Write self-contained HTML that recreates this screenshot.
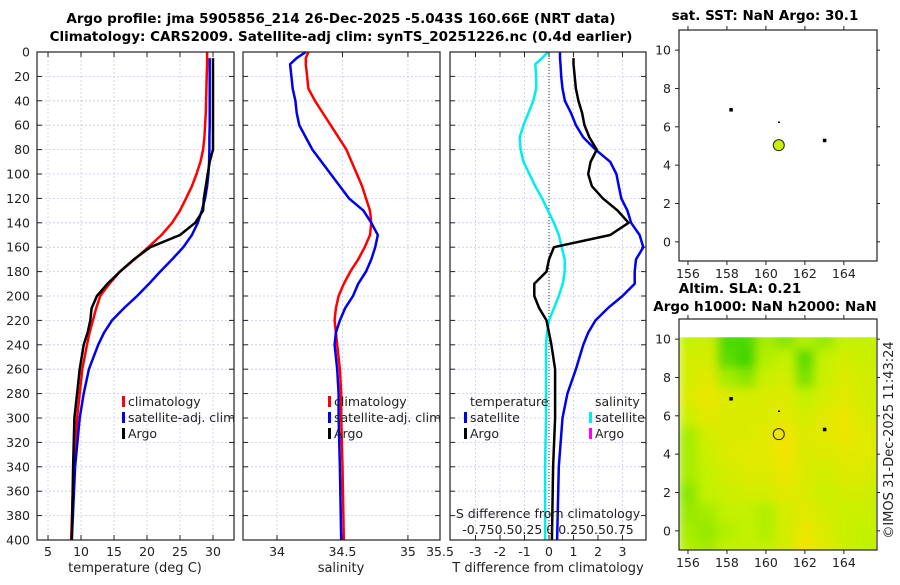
<!DOCTYPE html>
<html><head><meta charset="utf-8"><style>
body{margin:0;background:#fff;width:900px;height:580px;overflow:hidden}
svg{font-family:"DejaVu Sans","Liberation Sans",sans-serif}
</style></head><body>
<svg id="s" width="900" height="580" xmlns="http://www.w3.org/2000/svg">
<text x="341" y="23" font-size="13.5" font-weight="bold" text-anchor="middle">Argo profile: jma 5905856_214 26-Dec-2025 -5.043S 160.66E (NRT data)</text>
<text x="341" y="41" font-size="13.5" font-weight="bold" text-anchor="middle">Climatology: CARS2009. Satellite-adj clim: synTS_20251226.nc (0.4d earlier)</text>
<text x="765" y="20" font-size="13.5" font-weight="bold" text-anchor="middle">sat. SST: NaN Argo: 30.1</text>
<text x="740" y="293" font-size="13.5" font-weight="bold" text-anchor="middle">Altim. SLA: 0.21</text>
<text x="765" y="311" font-size="13.5" font-weight="bold" text-anchor="middle">Argo h1000: NaN h2000: NaN</text>
<text transform="translate(893,440) rotate(-90)" font-size="13" text-anchor="middle" fill="#222">©IMOS 31-Dec-2025 11:43:24</text>
</svg>
<script>
// ---- data ----
const depths=[0,5,10,20,30,40,50,60,70,80,90,100,110,120,130,140,150,160,170,180,190,200,210,220,230,240,260,280,300,340,400];
const tempClim=[29.1,29.1,29.1,29.05,29.0,28.95,28.9,28.8,28.7,28.5,28.1,27.5,26.8,25.9,25.0,23.8,22.2,20.2,18.1,15.9,14.3,12.9,12.3,11.8,11.3,10.9,10.2,9.8,9.4,8.9,8.5];
const tempSat=[null,29.5,29.5,29.5,29.5,29.5,29.5,29.5,29.45,29.45,29.4,29.3,29.1,28.8,28.3,27.7,26.8,25.5,23.8,22.0,20.3,18.5,16.5,14.7,13.5,12.6,11.2,10.4,9.8,9.1,8.6];
const tempArgo=[null,30.0,30.0,30.0,30.0,30.0,30.0,30.0,30.0,30.0,29.5,29.2,28.9,28.6,28.5,27.3,25.0,20.5,18.0,15.9,14.0,12.4,11.6,11.4,11.0,10.4,9.8,9.4,9.0,8.8,8.6];
const salClim=[34.24,34.22,34.22,34.23,34.24,34.29,34.35,34.41,34.47,34.53,34.57,34.61,34.65,34.68,34.71,34.72,34.71,34.67,34.62,34.56,34.51,34.47,34.45,34.44,34.45,34.46,34.48,34.49,34.49,34.5,34.51];
const salSat=[34.22,34.15,34.1,34.11,34.12,34.14,34.15,34.17,34.22,34.27,34.34,34.41,34.48,34.55,34.66,34.72,34.77,34.75,34.72,34.68,34.62,34.58,34.52,34.48,34.45,34.44,34.46,34.47,34.47,34.48,34.49];
const dTsat=[0.45,0.45,0.47,0.5,0.55,0.65,0.9,1.1,1.4,1.9,2.5,2.75,2.85,2.95,3.2,3.35,3.7,3.85,3.55,3.5,3.5,3.0,2.4,1.9,1.6,1.4,1.1,0.75,0.55,0.4,0.33];
const dTargo=[null,1.0,1.0,1.05,1.1,1.2,1.35,1.45,1.65,1.95,1.7,1.6,1.75,2.2,2.8,3.25,2.5,0.2,0.0,-0.1,-0.6,-0.6,-0.4,-0.1,0.0,0.1,0.25,0.25,0.25,0.17,0.12];
const dSsat=[-0.01,-0.07,-0.14,-0.13,-0.13,-0.16,-0.21,-0.26,-0.3,-0.29,-0.26,-0.2,-0.14,-0.07,-0.01,0.05,0.1,0.13,0.16,0.16,0.14,0.1,0.05,0.0,-0.02,-0.03,-0.03,-0.03,-0.03,-0.04,-0.04];
const depthTicks=[0,20,40,60,80,100,120,140,160,180,200,220,240,260,280,300,320,340,360,380,400];
const tTicks=[5,10,15,20,25,30];
const sTicks=[34,34.5,35];
const dTicks=[-3,-2,-1,0,1,2,3];
const lonTicks=[156,158,160,162,164];
const latTicks=[0,2,4,6,8,10];
const argoLon=160.66, argoLat=5.043;
const islandsLon=[158.2,160.7,163.0];
const islandsLat=[6.9,6.2,5.3];
const slaGrid=[
[0.55,0.5,0.6,0.6,0.6,0.7,0.9,0.8,0.65,0.6,0.6],
[0.5,0.45,0.55,0.6,0.55,0.7,0.85,0.75,0.65,0.6,0.6],
[0.45,0.5,0.6,0.6,0.55,0.7,0.8,0.7,0.65,0.65,0.6],
[0.4,0.6,0.65,0.7,0.7,0.8,0.75,0.65,0.7,0.7,0.6],
[0.5,0.6,0.7,0.75,0.75,0.85,0.75,0.7,0.75,0.75,0.65],
[0.5,0.65,0.75,0.8,0.8,0.9,0.75,0.75,0.8,0.8,0.7],
[0.5,0.7,0.75,0.75,0.8,0.9,0.75,0.8,0.85,0.8,0.7],
[0.65,0.8,0.75,0.75,0.75,0.8,0.7,0.8,0.85,0.75,0.65],
[0.75,0.85,0.75,0.7,0.75,0.75,0.6,0.7,0.8,0.7,0.65],
[0.7,0.8,0.5,0.4,0.65,0.7,0.35,0.65,0.75,0.7,0.65],
[0.7,0.7,0.25,0.15,0.55,0.6,0.25,0.6,0.7,0.65,0.6],
[0.6,0.65,0.2,0.2,0.5,0.4,0.55,0.45,0.6,0.6,0.6]];

const S=document.getElementById('s');const NS='http://www.w3.org/2000/svg';
function el(t,a,txt){const e=document.createElementNS(NS,t);for(const k in a)e.setAttribute(k,a[k]);if(txt!==undefined)e.textContent=txt;S.appendChild(e);return e;}
const Y0=52,Y1=540;const yD=d=>Y0+(Y1-Y0)*d/400;
const panels=[
 {x0:37,x1:234,lo:3.33,hi:33.18,name:'temperature-panel'},
 {x0:243,x1:440,lo:33.74,hi:35.245,name:'salinity-panel'},
 {x0:450,x1:646,lo:-4.04,hi:3.96,name:'difference-panel'}];
panels.forEach(p=>{p.x=v=>p.x0+(p.x1-p.x0)*(v-p.lo)/(p.hi-p.lo);});
function grid(p,ticks){
 depthTicks.forEach(d=>{const g=el('line',{x1:p.x0,x2:p.x1,y1:yD(d),y2:yD(d),stroke:'#c4cbef','stroke-width':0.8,'stroke-dasharray':'2,2'});
 
 const t1=el('line',{x1:p.x0,x2:p.x0+5,y1:yD(d),y2:yD(d),stroke:'#222'});
 const t2=el('line',{x1:p.x1-5,x2:p.x1,y1:yD(d),y2:yD(d),stroke:'#222'});});
 ticks.forEach(v=>{const x=p.x(v);const g=el('line',{x1:x,x2:x,y1:Y0,y2:Y1,stroke:'#c4cbef','stroke-width':0.8,'stroke-dasharray':'2,2'});
 
 const a=el('line',{x1:x,x2:x,y1:Y0,y2:Y0+5,stroke:'#222'});
 const b=el('line',{x1:x,x2:x,y1:Y1-5,y2:Y1,stroke:'#222'});
 const l=el('text',{x:x,y:556,'font-size':12.5,'text-anchor':'middle',fill:'#222'},String(v));});
}
function series(p,vals,col,w,nm){let pts=[];vals.forEach((v,i)=>{if(v!==null)pts.push(p.x(v).toFixed(1)+','+yD(depths[i]).toFixed(1));});
 const l=el('polyline',{points:pts.join(' '),fill:'none',stroke:col,'stroke-width':w,'stroke-linejoin':'round'});
 }
function box(p){const r=el('rect',{x:p.x0,y:Y0,width:p.x1-p.x0,height:Y1-Y0,fill:'none',stroke:'#222','stroke-width':1.2});}
function leg(x,y,col,txt,nm){const m=el('rect',{x:x,y:y-10,width:3,height:11,fill:col});
 const t=el('text',{x:x+6,y:y,'font-size':12.5,fill:'#222'},txt);}
depthTicks.forEach(d=>{const t=el('text',{x:30,y:yD(d)+4.5,'font-size':12.5,'text-anchor':'end',fill:'#222'},String(d));});
const P1=panels[0];grid(P1,tTicks);
series(P1,tempClim,'#ff0000',2.5,'temp-climatology-line');series(P1,tempSat,'#0000ee',2.5,'temp-satellite-line');series(P1,tempArgo,'#000',2.5,'temp-argo-line');box(P1);
leg(122,406,'#f00','climatology','legend-climatology');leg(122,422,'#00e','satellite-adj. clim','legend-satellite');leg(122,438,'#000','Argo','legend-argo');
let t=el('text',{x:135,y:572,'font-size':13,'text-anchor':'middle',fill:'#222'},'temperature (deg C)');
const P2=panels[1];grid(P2,sTicks);
t=el('text',{x:440,y:556,'font-size':12.5,'text-anchor':'middle',fill:'#222'},'35.5');
series(P2,salClim,'#ff0000',2.5,'sal-climatology-line');series(P2,salSat,'#0000ee',2.5,'sal-satellite-line');box(P2);
leg(328,406,'#f00','climatology','legend-climatology');leg(328,422,'#00e','satellite-adj. clim','legend-satellite');leg(328,438,'#000','Argo','legend-argo');
t=el('text',{x:341,y:572,'font-size':13,'text-anchor':'middle',fill:'#222'},'salinity');
const P3=panels[2];grid(P3,dTicks);
t=el('line',{x1:P3.x(0),x2:P3.x(0),y1:Y0,y2:Y1,stroke:'#333','stroke-width':1,'stroke-dasharray':'1,2'});
series(P3,dSsat.map(v=>v*4),'#00eeee',2.5,'sal-diff-satellite-line');
series(P3,dTsat,'#0000ee',2.5,'temp-diff-satellite-line');series(P3,dTargo,'#000',2.5,'temp-diff-argo-line');box(P3);
t=el('text',{x:470,y:406,'font-size':12.5,fill:'#222'},'temperature');
t=el('text',{x:595,y:406,'font-size':12.5,fill:'#222'},'salinity');
leg(464,422,'#00e','satellite','legend-temp-satellite');leg(464,438,'#000','Argo','legend-temp-argo');
leg(589,422,'#0ee','satellite','legend-sal-satellite');leg(589,438,'#f0f','Argo','legend-sal-argo');
t=el('text',{x:548,y:518,'font-size':12.5,'text-anchor':'middle',fill:'#222'},'S difference from climatology');
t=el('text',{x:548,y:534,'font-size':12.5,'text-anchor':'middle',fill:'#222'},'-0.750.50.25 0 0.250.50.75');
t=el('text',{x:548,y:572,'font-size':13,'text-anchor':'middle',fill:'#222'},'T difference from climatology');
function mapAxes(y0,y1,name){const X0=679,X1=877;
 const mx=v=>X0+(X1-X0)*(v-155.54)/(165.7-155.54);const my=v=>y1-(y1-y0)*(v+1)/12.05;
 return {X0,X1,y0,y1,mx,my,name};}
function mapFrame(m){
 lonTicks.forEach(v=>{const x=m.mx(v);const a=el('line',{x1:x,x2:x,y1:m.y1,y2:m.y1+4,stroke:'#222'});
  const b=el('line',{x1:x,x2:x,y1:m.y0-4,y2:m.y0,stroke:'#222'});
  const l=el('text',{x:x,y:m.y1+17,'font-size':12.5,'text-anchor':'middle',fill:'#222'},String(v));});
 latTicks.forEach(v=>{const y=m.my(v);const a=el('line',{x1:m.X0-4,x2:m.X0,y1:y,y2:y,stroke:'#222'});
  const b=el('line',{x1:m.X1,x2:m.X1+3,y1:y,y2:y,stroke:'#222'});
  const l=el('text',{x:m.X0-8,y:y+4.5,'font-size':12.5,'text-anchor':'end',fill:'#222'},String(v));});
 const r=el('rect',{x:m.X0,y:m.y0,width:m.X1-m.X0,height:m.y1-m.y0,fill:'none',stroke:'#222','stroke-width':1.2});}
function islands(m){islandsLon.forEach((lo,i)=>{const c=el('rect',{x:m.mx(lo)-1.5,y:m.my(islandsLat[i])-1.5,width:i==1?2:3.5,height:i==1?1.5:3.5,fill:'#000'});});}
function col(v){const g=[20,205,0],m=[195,242,0],y=[242,228,0];let a,b,f;if(v<0.6){a=g;b=m;f=v/0.6}else{a=m;b=y;f=Math.min(1,(v-0.6)/0.3)}
 return 'rgb('+a.map((c,i)=>Math.round(c+(b[i]-c)*f)).join(',')+')';}
const M1=mapAxes(30,261,'sst-map');islands(M1);
t=el('circle',{cx:M1.mx(argoLon),cy:M1.my(argoLat),r:5.5,fill:'#c8f000',stroke:'#222','stroke-width':1});
mapFrame(M1);
const M2=mapAxes(319,550,'sla-map');
const defs=el('defs',{});defs.innerHTML='<filter id="bl" x="0" y="0" width="1" height="1"><feGaussianBlur stdDeviation="5" edgeMode="duplicate"/></filter><clipPath id="cp"><rect x="679" y="'+M2.my(10.1)+'" width="197" height="'+(550-M2.my(10.1))+'"/></clipPath>';
const gc=el('g',{'clip-path':'url(#cp)'});
const gi=document.createElementNS(NS,'g');gi.setAttribute('filter','url(#bl)');gc.appendChild(gi);
slaGrid.forEach((row,j)=>row.forEach((v,i)=>{const lo=155.5+i,la=-1.5+j;const x=M2.mx(lo),y=M2.my(la+1);
 const r=document.createElementNS(NS,'rect');r.setAttribute('x',x);r.setAttribute('y',y);r.setAttribute('width',M2.mx(lo+1)-x+0.5);r.setAttribute('height',M2.my(la)-y+0.5);r.setAttribute('fill',col(v));
 
 
 gi.appendChild(r);}));
islands(M2);
t=el('circle',{cx:M2.mx(argoLon),cy:M2.my(argoLat),r:5.5,fill:'none',stroke:'#222','stroke-width':1});
mapFrame(M2);
</script>
</body></html>
